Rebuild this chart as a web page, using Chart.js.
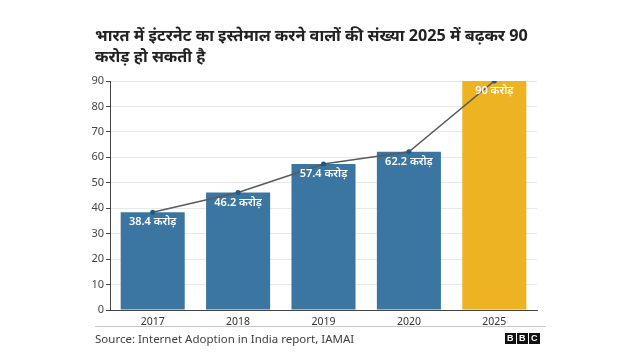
<!DOCTYPE html>
<html><head><meta charset="utf-8">
<script src="https://cdn.jsdelivr.net/npm/chart.js@4/dist/chart.umd.min.js"></script>
<style>
html,body{margin:0;padding:0;background:#fff;width:640px;height:360px;overflow:hidden;font-family:"Noto Sans",sans-serif;}
#title{position:absolute;left:95px;top:25px;width:460px;font-size:16.2px;font-weight:700;line-height:21px;color:#222;}
#wrap{position:absolute;left:0;top:0;width:640px;height:360px;}
#sep{position:absolute;left:95px;top:326px;width:451px;height:1px;background:#c8c8c8;}
#src{position:absolute;left:95px;top:331px;font-size:11.5px;color:#404040;}
#bbc{position:absolute;left:505px;top:333px;display:flex;gap:1.5px;}
#bbc span{display:block;width:10.5px;height:11px;background:#111;color:#fff;font:700 9px "Liberation Sans",Arial,sans-serif;line-height:11px;text-align:center;}
</style></head>
<body>
<div id="wrap"><canvas id="c" width="640" height="360"></canvas></div>
<div id="title">भारत में इंटरनेट का इस्तेमाल करने वालों की संख्या 2025 में बढ़कर 90 करोड़ हो सकती है</div>
<div id="sep"></div>
<div id="src">Source: Internet Adoption in India report, IAMAI</div>
<div id="bbc"><span>B</span><span>B</span><span>C</span></div>
<script>
const categories = ["2017","2018","2019","2020","2025"];
const users = [38.4, 46.2, 57.4, 62.2, 90];
const valueLabels = ["38.4 करोड़","46.2 करोड़","57.4 करोड़","62.2 करोड़","90 करोड़"];
const barColors = ["#3a76a1","#3a76a1","#3a76a1","#3a76a1","#eeb322"];

const labelPlugin = {
  id:'vlabels',
  afterDatasetsDraw(chart){
    const meta = chart.getDatasetMeta(1);
    const ctx = chart.ctx;
    ctx.save();
    ctx.font = '600 11px "Noto Sans", sans-serif';
    ctx.fillStyle = '#fff';
    ctx.textAlign = 'center';
    ctx.textBaseline = 'middle';
    meta.data.forEach((el,i)=>{
      ctx.fillText(valueLabels[i], el.x, el.y + 10);
    });
    ctx.restore();
  }
};

new Chart(document.getElementById('c'), {
  data:{
    labels: categories,
    datasets:[
      {type:'line', data: users, borderColor:'#5a5a5a', borderWidth:1.5, pointRadius:2.5, pointBackgroundColor:'#1f5a80', pointBorderWidth:0, tension:0, order:0},
      {type:'bar', data: users, backgroundColor: barColors, barPercentage:0.75, categoryPercentage:1.0, order:1}
    ]
  },
  options:{
    responsive:false, animation:false,
    layout:{padding:{left:88,right:103,top:81,bottom:34}},
    plugins:{legend:{display:false}, tooltip:{enabled:false}},
    scales:{
      x:{
        grid:{display:false},
        border:{display:true,color:'#444',width:1},
        ticks:{color:'#333',font:{size:10.5,family:'"Noto Sans", sans-serif'},padding:-2},
        afterFit(s){s.height=16;}
      },
      y:{
        min:0,max:90,
        ticks:{stepSize:10,color:'#444',font:{size:11,family:'"Noto Sans", sans-serif'},padding:2},
        grid:{color:'#e8e8e8',tickColor:'#444',tickLength:4},
        border:{display:true,color:'#444',width:1},
        afterFit(s){s.width=22;}
      }
    }
  },
  plugins:[labelPlugin]
});
</script>
</body></html>
